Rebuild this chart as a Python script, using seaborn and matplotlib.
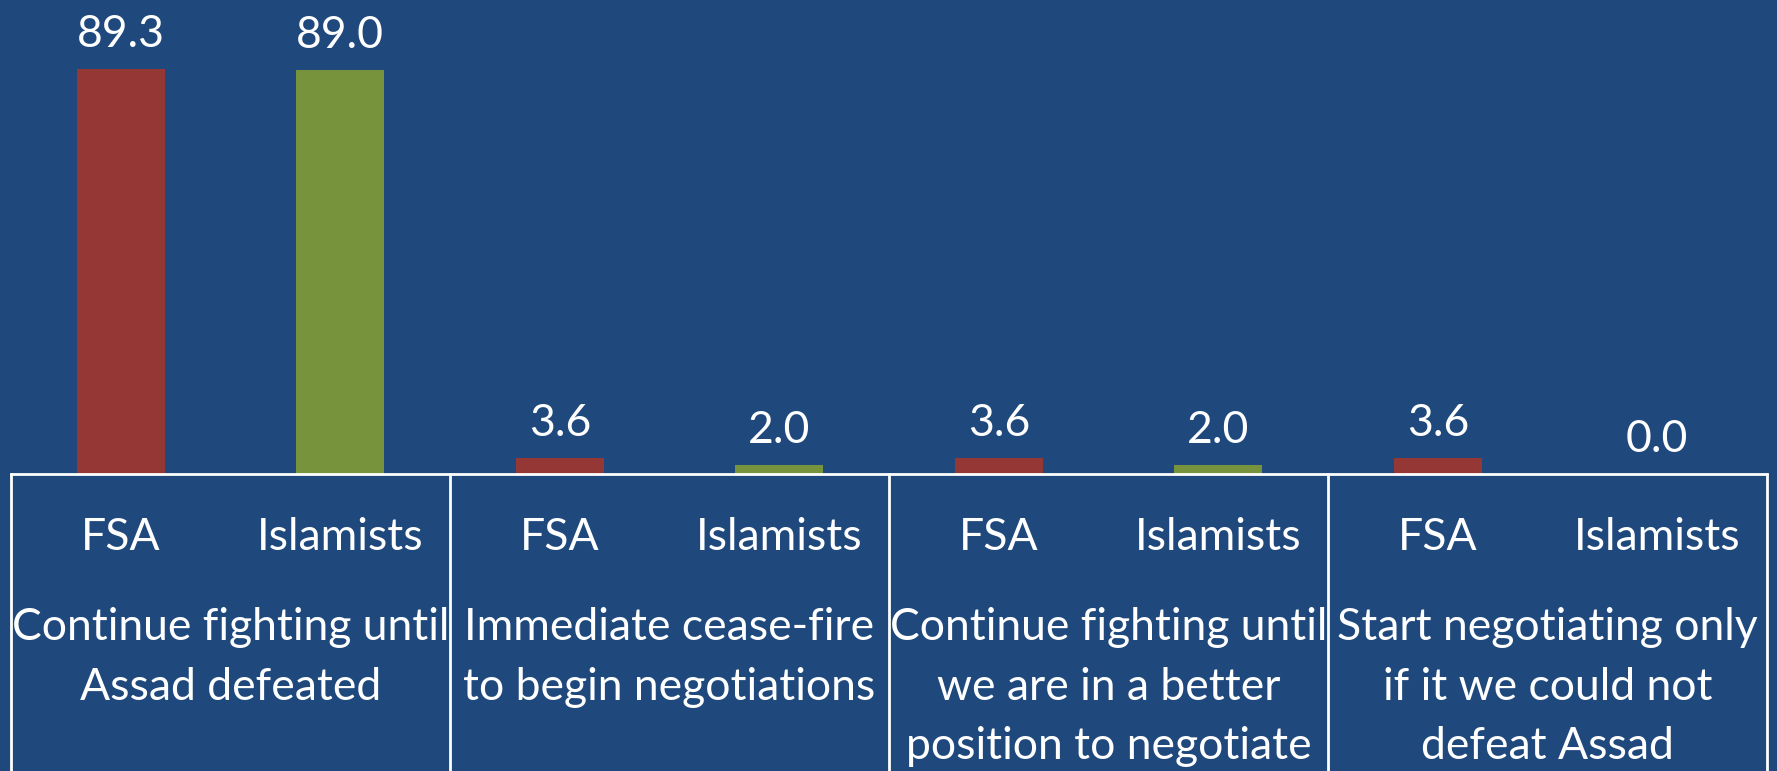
import pandas as pd
import matplotlib.pyplot as plt
import seaborn as sns

# data
groups = ["Continue fighting until\nAssad defeated",
          "Immediate cease-fire\nto begin negotiations",
          "Continue fighting until\nwe are in a better\nposition to negotiate",
          "Start negotiating only\nif it we could not\ndefeat Assad"]
parties = ["FSA", "Islamists"]
fsa_values = [89.3, 3.6, 3.6, 3.6]
islamist_values = [89.0, 2.0, 2.0, 0.0]

rows = []
for i, g in enumerate(groups):
    rows.append({"slot": f"{i}-FSA", "party": "FSA", "value": fsa_values[i]})
    rows.append({"slot": f"{i}-Islamists", "party": "Islamists", "value": islamist_values[i]})
df = pd.DataFrame(rows)

bg = "#1F497D"
colors = {"FSA": "#953735", "Islamists": "#77933C"}
fs = 32

sns.set_theme(style="white")
plt.rcParams['font.family'] = ['Lato', 'DejaVu Sans']

fig = plt.figure(figsize=(17.77, 7.71), dpi=100, facecolor=bg)
ax = fig.add_axes([0.0062, 0.385, 0.9882, 0.589])
ax.set_facecolor(bg)

sns.barplot(data=df, x="slot", y="value", hue="party", palette=colors,
            dodge=False, width=0.4, legend=False, ax=ax, saturation=1,
            linewidth=0)

for c in ax.containers:
    ax.bar_label(c, fmt="%.1f", padding=10, color="white", fontsize=fs)

ax.set_xlim(-0.5, 7.5)
ax.set_ylim(0, 100)
ax.set_yticks([])
ax.set_xticks(range(8))
ax.set_xticklabels([p for _ in groups for p in parties], color="white", fontsize=fs)
ax.tick_params(axis="x", length=0, pad=31)
ax.set_xlabel("")
ax.set_ylabel("")

for s in ["top", "left", "right"]:
    ax.spines[s].set_visible(False)
ax.spines["bottom"].set_color("white")
ax.spines["bottom"].set_linewidth(2)

# group boxes below the axis
xt = ax.get_xaxis_transform()
for x in [-0.5, 1.5, 3.5, 5.5, 7.5]:
    ax.plot([x, x], [0, -0.8], transform=xt, color="white", lw=2, clip_on=False)

for i, g in enumerate(groups):
    ax.annotate(g, xy=(2 * i + 0.5, 0), xycoords=xt, xytext=(0, -96),
                textcoords="offset points", ha="center", va="top",
                color="white", fontsize=fs, linespacing=1.56, annotation_clip=False)

fig.savefig("out.png", dpi=100, facecolor=bg)
